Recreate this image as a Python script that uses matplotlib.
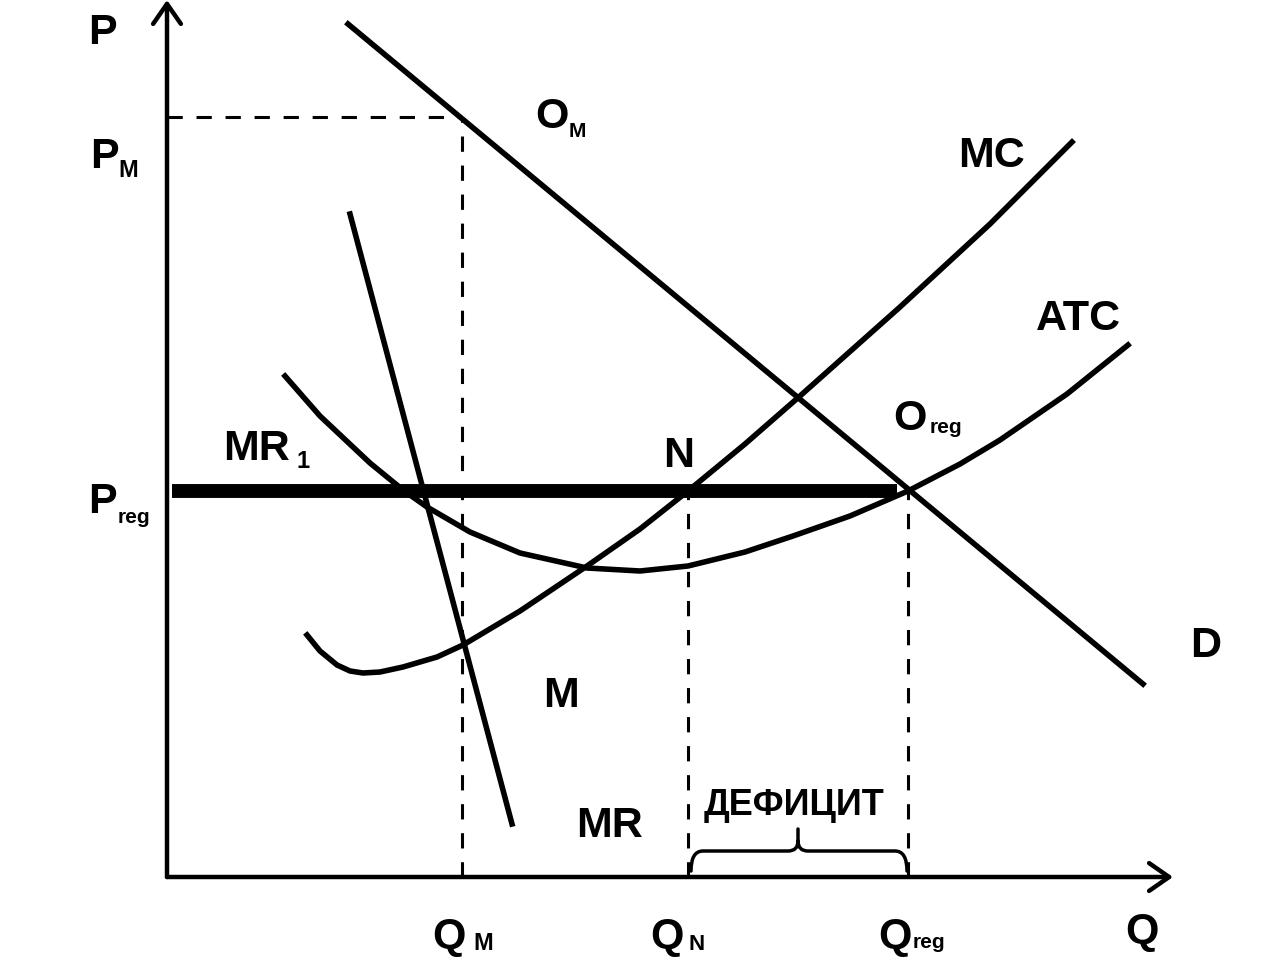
import numpy as np
import matplotlib
matplotlib.use('Agg')
import matplotlib.pyplot as plt
from matplotlib.path import Path
from matplotlib.patches import PathPatch

# key levels
q_m = 29.5
q_n = 52.1
q_reg = 74.1
p_m = 76.0
p_reg = 38.6

# demand D and marginal revenue MR1 (straight lines, end points)
d_q = [18.1, 97.6]
d_p = [85.3, 19.3]
mr_q = [18.3, 34.5]
mr_p = [66.3, 5.3]

# marginal cost MC
mc_q = [14.0, 15.3, 17.0, 18.3, 19.6, 21.3, 23.6, 27.0, 29.6, 35.3, 42.0,
        47.3, 52.1, 57.8, 63.3, 73.3, 82.3, 90.5]
mc_p = [24.2, 22.6, 21.2, 20.6, 20.4, 20.5, 21.0, 22.0, 23.2, 26.6, 31.1,
        34.8, 38.6, 43.3, 48.1, 57.0, 65.3, 73.5]

# average total cost ATC
atc_q = [11.8, 15.3, 20.3, 23.6, 26.0, 30.3, 35.3, 42.0, 47.3, 52.1, 57.8,
         62.6, 68.3, 74.1, 79.3, 83.3, 90.0, 96.1]
atc_p = [50.1, 46.1, 41.4, 38.7, 37.0, 34.5, 32.4, 30.9, 30.6, 31.1, 32.5,
         34.1, 36.1, 38.6, 41.3, 43.7, 48.3, 53.2]

fig = plt.figure(figsize=(12.72, 9.78), dpi=100)
ax = fig.add_axes([0, 0, 1, 1])
ax.set_xlim(-16.7, 110.5)
ax.set_ylim(-10.0, 87.8)
ax.axis('off')

plt.rcParams['font.family'] = ['Liberation Sans', 'DejaVu Sans']

# axes with arrows
arrow = dict(arrowstyle='->,head_length=0.72,head_width=0.5', lw=3.2,
             color='black', shrinkA=0, shrinkB=0, mutation_scale=20)
ax.annotate('', xy=(0, 87.7), xytext=(0, 0), arrowprops=arrow)
ax.annotate('', xy=(100.6, 0), xytext=(0, 0), arrowprops=arrow)

# dashed guides
dash = dict(color='black', lw=2.2, linestyle=(0, (5, 4.5)))
ax.plot([q_m, q_m], [0, p_m], **dash)
ax.plot([0, q_m], [p_m, p_m], **dash)
ax.plot([q_n, q_n], [0, p_reg], **dash)
ax.plot([q_reg, q_reg], [0, p_reg], **dash)

# curves
lw = 4.0
ax.plot(d_q, d_p, color='black', lw=lw)
ax.plot(mr_q, mr_p, color='black', lw=lw)
ax.plot(mc_q, mc_p, color='black', lw=lw, solid_joinstyle='round')
ax.plot(atc_q, atc_p, color='black', lw=lw, solid_joinstyle='round')

# regulated price
ax.plot([0.5, q_reg - 1.1], [p_reg, p_reg], color='black', lw=10,
        solid_capstyle='butt')

# brace for the deficit
xl, xr = q_n + 0.3, q_reg - 0.1
xc = (q_n + q_reg) / 2
yb, ym, yt = 0.6, 2.6, 4.8
verts = [(xl, yb), (xl, ym), (xl + 1.2, ym), (xc - 1.0, ym),
         (xc, ym), (xc, ym + 1.0), (xc, yt),
         (xc, ym + 1.0), (xc, ym), (xc + 1.0, ym), (xr - 1.2, ym),
         (xr, ym), (xr, yb)]
codes = [Path.MOVETO, Path.CURVE3, Path.CURVE3, Path.LINETO,
         Path.CURVE3, Path.CURVE3, Path.LINETO,
         Path.MOVETO, Path.CURVE3, Path.CURVE3, Path.LINETO,
         Path.CURVE3, Path.CURVE3]
ax.add_patch(PathPatch(Path(verts, codes), fill=False, lw=2.5,
                       edgecolor='black', capstyle='round'))

# labels
big = 31
txt = dict(fontweight='bold', ha='left', va='baseline', color='black')
labels = [
    ('P', -7.9, 83.4, big), ('P', -7.7, 71.0, big), ('М', -4.9, 70.1, 17),
    ('O', 36.8, 75.0, big), ('M', 40.2, 74.1, 15),
    ('MC', 79.1, 71.1, big), ('ATC', 86.9, 54.8, big),
    ('O', 72.6, 44.8, big), ('reg', 76.3, 44.5, 15),
    ('N', 49.6, 41.1, big),
    ('MR', 5.6, 41.8, big), ('1', 13.0, 41.0, 17),
    ('P', -7.9, 36.5, big), ('reg', -4.9, 35.5, 15),
    ('M', 37.6, 17.1, big), ('MR', 40.9, 4.1, big),
    ('ДЕФИЦИТ', 53.7, 6.3, 26),
    ('D', 102.3, 22.1, big), ('Q', 95.8, -6.5, big),
    ('Q', 26.5, -7.0, big), ('M', 30.6, -7.2, 17),
    ('Q', 48.3, -7.0, big), ('N', 52.1, -7.2, 16),
    ('Q', 71.1, -7.0, big), ('reg', 74.6, -7.0, 15),
]
for s, x, y, size in labels:
    ax.text(x, y, s, fontsize=size, **txt)

fig.savefig('out.png', dpi=100)
